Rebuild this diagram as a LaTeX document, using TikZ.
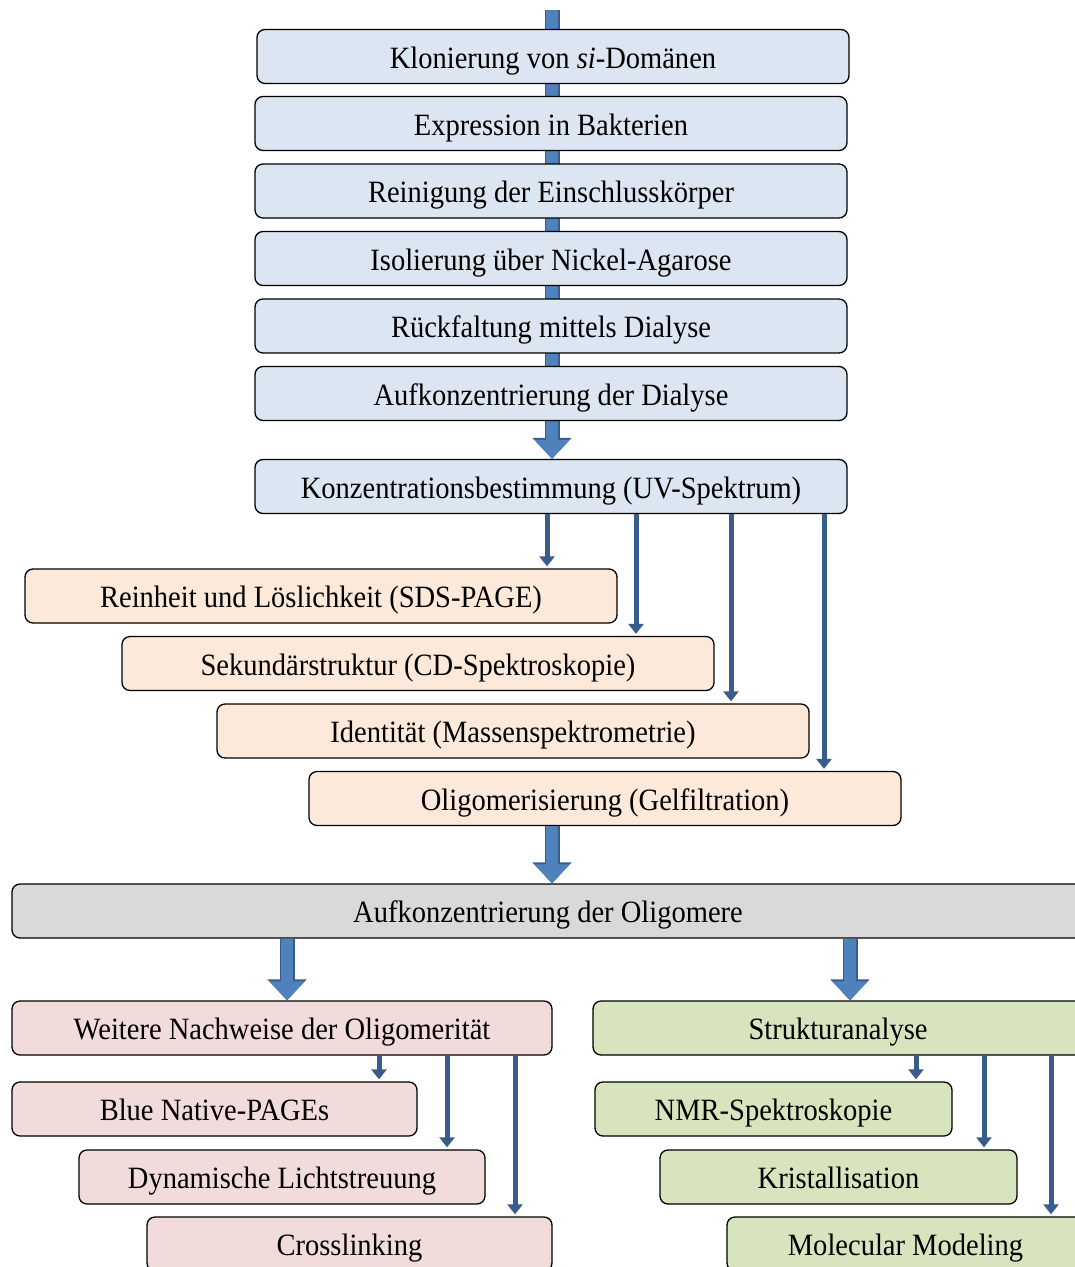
\documentclass[tikz,border=0pt]{standalone}
\usepackage{fontspec}
\setmainfont{Liberation Serif}[FakeStretch=0.92]
\usetikzlibrary{arrows.meta,backgrounds}

\definecolor{stepblue}{HTML}{DCE6F2}
\definecolor{steporange}{HTML}{FDE9D9}
\definecolor{stepgray}{HTML}{D9D9D9}
\definecolor{steppink}{HTML}{F2DCDB}
\definecolor{stepgreen}{HTML}{D7E4BD}
\definecolor{arrowfill}{HTML}{4F81BD}
\definecolor{arrowedge}{HTML}{385D8A}

\tikzset{
	stepbox/.style={draw=black, line width=1.3pt, rounded corners=8pt,
		minimum height=54pt, inner sep=0pt, text height=24pt, text depth=1pt,
		font=\fontsize{31}{34}\selectfont},
	blue box/.style={stepbox, fill=stepblue, minimum width=592pt},
	orange box/.style={stepbox, fill=steporange, minimum width=592pt},
	gray box/.style={stepbox, fill=stepgray, minimum width=1072pt},
	pink box/.style={stepbox, fill=steppink, minimum width=#1},
	green box/.style={stepbox, fill=stepgreen, minimum width=#1},
	fat arrow/.style={draw=arrowfill, line width=12pt, -{Triangle[width=34pt,length=19pt]},
		preaction={draw=arrowedge, line width=15pt, -{Triangle[width=38pt,length=21pt]}}},
	thin arrow/.style={draw=arrowedge, line width=5pt, -{Triangle[width=15pt,length=10pt]}}
}

\begin{document}
\begin{tikzpicture}[x=1pt, y=-1pt]
	\clip (0,0) rectangle (1075,1267);
	% Aufreinigung
	\node[blue box] (klon) at (553,56.5) {Klonierung von \textit{si}-Domänen};
	\node[blue box] (expr) at (551,123.5) {Expression in Bakterien};
	\node[blue box] (rein) at (551,191) {Reinigung der Einschlusskörper};
	\node[blue box] (isol) at (551,258.5) {Isolierung über Nickel-Agarose};
	\node[blue box] (rueck) at (551,326) {Rückfaltung mittels Dialyse};
	\node[blue box] (dial) at (551,393.5) {Aufkonzentrierung der Dialyse};
	\node[blue box] (konz) at (551,486.5) {Konzentrationsbestimmung (UV-Spektrum)};
	\coordinate (start) at (552,10);
	\begin{pgfonlayer}{background}
		\draw[fat arrow] (start) -- (konz.north -| start);
	\end{pgfonlayer}

	% Charakterisierung
	\node[orange box] (sds) at (321,596) {Reinheit und Löslichkeit (SDS-PAGE)};
	\node[orange box] (cd) at (418,663.5) {Sekundärstruktur (CD-Spektroskopie)};
	\node[orange box] (ms) at (513,731) {Identität (Massenspektrometrie)};
	\node[orange box] (gel) at (605,798.5) {Oligomerisierung (Gelfiltration)};
	\foreach \x/\t in {547/sds, 636/cd, 731/ms, 824/gel}
		\draw[thin arrow] (konz.south -| \x,0) -- ([yshift=2pt]\t.north -| \x,0);

	\node[gray box] (olig) at (548,911) {Aufkonzentrierung der Oligomere};
	\draw[fat arrow] (gel.south -| 552,0) -- (olig.north -| 552,0);

	% Oligomere
	\node[pink box=540pt] (nach) at (282,1028) {Weitere Nachweise der Oligomerität};
	\node[pink box=405pt] (blue) at (214.5,1109) {Blue Native-PAGEs};
	\node[pink box=406pt] (dls) at (282,1177) {Dynamische Lichtstreuung};
	\node[pink box=405pt] (cross) at (349.5,1244) {Crosslinking};
	\node[green box=490pt] (struk) at (838,1028) {Strukturanalyse};
	\node[green box=357pt] (nmr) at (773.5,1109) {NMR-Spektroskopie};
	\node[green box=357pt] (krist) at (838.5,1177) {Kristallisation};
	\node[green box=357pt] (model) at (905.5,1244) {Molecular Modeling};
	\draw[fat arrow] (olig.south -| 287,0) -- (nach.north -| 287,0);
	\draw[fat arrow] (olig.south -| 850,0) -- (struk.north -| 850,0);
	\foreach \x/\t in {379/blue, 447/dls, 515/cross}
		\draw[thin arrow] (nach.south -| \x,0) -- ([yshift=2pt]\t.north -| \x,0);
	\foreach \x/\t in {916/nmr, 984/krist, 1051/model}
		\draw[thin arrow] (struk.south -| \x,0) -- ([yshift=2pt]\t.north -| \x,0);
\end{tikzpicture}
\end{document}
